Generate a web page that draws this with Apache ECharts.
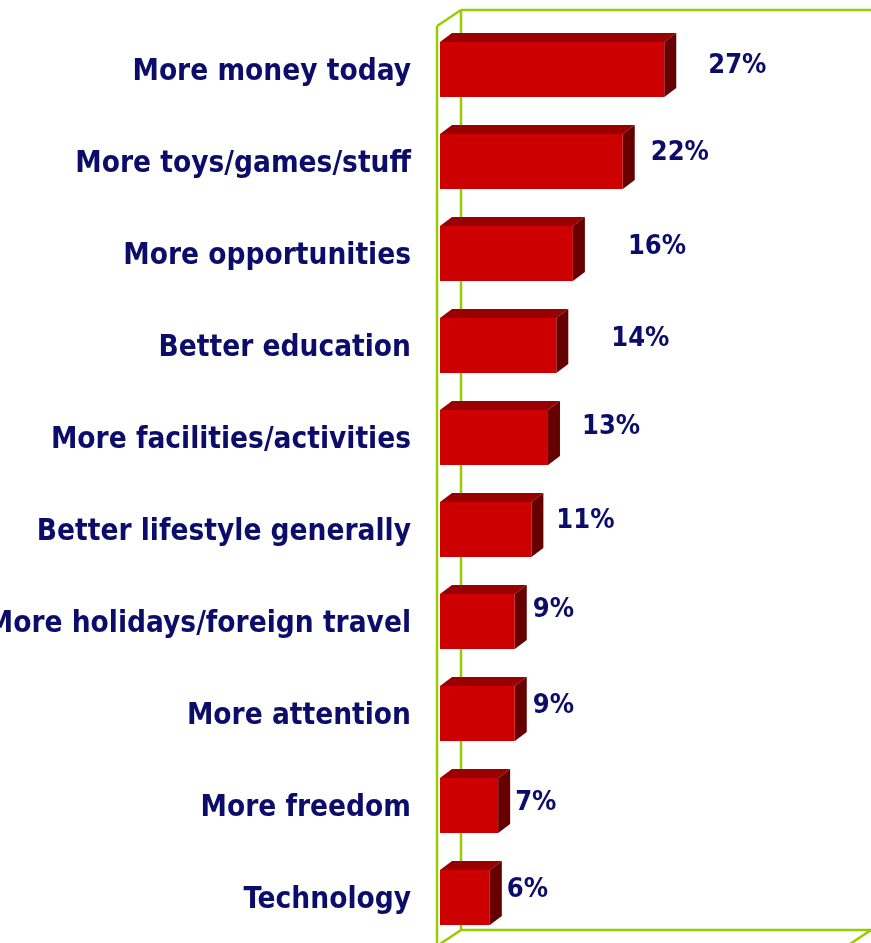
<!DOCTYPE html>
<html>
<head>
<meta charset="utf-8">
<script src="https://cdn.jsdelivr.net/npm/echarts@6/dist/echarts.min.js"></script>
<style>
  html, body { margin: 0; padding: 0; background: #fff; }
  #chart { width: 871px; height: 943px; }
</style>
</head>
<body>
<div id="chart"></div>
<script>
// data
const categories = [
    'More money today',
    'More toys/games/stuff',
    'More opportunities',
    'Better education',
    'More facilities/activities',
    'Better lifestyle generally',
    'More holidays/foreign travel',
    'More attention',
    'More freedom',
    'Technology'
];
const values = [27, 22, 16, 14, 13, 11, 9, 9, 7, 6];
const valueLabels = ['27%', '22%', '16%', '14%', '13%', '11%', '9%', '9%', '7%', '6%'];

// label placement, as in the original (gap after bar front, lift above bar centre)
const labelGap = [44, 28, 55, 55, 34, 25, 18, 18, 17, 17];
const labelLift = [4, 9, 7, 7, 11, 9, 12, 8, 3, 8];

const FONT = '"DejaVu Sans Condensed", "DejaVu Sans", sans-serif';
const TEXT = '#0c0c6a';
const WALL = '#99cc00';
const G = { left: 440, top: 26, width: 407, height: 920, outerBoundsMode: 'none', containLabel: false };
const DEPTH = [24, 16];   // wall depth
const BAR_D = [12, 9];    // bar depth

var myChart = echarts.init(document.getElementById('chart'));

function renderBar(params, api) {
    const v = api.value(0);
    const i = api.value(1);
    const p0 = api.coord([0, i]);
    const p1 = api.coord([v, i]);
    const band = api.size([0, 1])[1];
    const h = band * 0.6;
    const cy = p0[1] - 2.5;
    const top = cy - h / 2;
    const x0 = p0[0], x1 = p1[0];
    const dx = BAR_D[0], dy = BAR_D[1];
    return {
        type: 'group',
        children: [
            { type: 'polygon', shape: { points: [[x0, top], [x0 + dx, top - dy], [x1 + dx, top - dy], [x1, top]] },
              style: { fill: '#990000' } },
            { type: 'polygon', shape: { points: [[x1, top], [x1 + dx, top - dy], [x1 + dx, top + h - dy], [x1, top + h]] },
              style: { fill: '#660000' } },
            { type: 'rect', shape: { x: x0, y: top, width: x1 - x0, height: h },
              style: { fill: '#cc0000' } },
            { type: 'text', x: x1 + labelGap[i], y: cy - labelLift[i],
              style: { text: valueLabels[i], fill: TEXT, font: 'bold 27px ' + FONT,
                       verticalAlign: 'middle', align: 'left' } }
        ]
    };
}

// wall frame lines
const L = G.left - 3, T = G.top, R = G.left + G.width, B = G.top + G.height;
const wallLines = [
    [[L, T], [L, B + 10]],
    [[L + DEPTH[0], T - DEPTH[1]], [L + DEPTH[0], B - DEPTH[1]]],
    [[L, T], [L + DEPTH[0], T - DEPTH[1]]],
    [[L + DEPTH[0], T - DEPTH[1]], [R + DEPTH[0] + 4, T - DEPTH[1]]],
    [[L + DEPTH[0], B - DEPTH[1]], [R + DEPTH[0], B - DEPTH[1]]],
    [[L + DEPTH[0], B - DEPTH[1]], [L, B]],
    [[R + DEPTH[0], B - DEPTH[1]], [R, B]]
];

myChart.setOption({
    animation: false,
    backgroundColor: '#fff',
    grid: G,
    graphic: wallLines.map(function (pts) {
        return { type: 'polyline', z: 0, shape: { points: pts },
                 style: { stroke: WALL, lineWidth: 2.5, fill: null } };
    }),
    xAxis: {
        type: 'value', min: 0, max: 49,
        show: false, splitLine: { show: false }
    },
    yAxis: {
        type: 'category',
        data: categories,
        inverse: true,
        axisLine: { show: false },
        axisTick: { show: false },
        axisLabel: {
            margin: 29,
            color: TEXT,
            fontFamily: FONT,
            fontWeight: 'bold',
            fontSize: 29.5
        }
    },
    series: [{
        type: 'custom',
        renderItem: renderBar,
        encode: { x: 0, y: 1 },
        data: values.map(function (v, i) { return [v, i]; }),
        z: 5
    }]
});
</script>
</body>
</html>
